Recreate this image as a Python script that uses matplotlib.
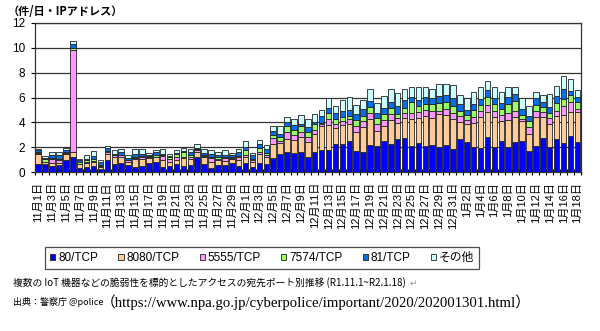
import numpy as np
import matplotlib
matplotlib.use("Agg")
import matplotlib.pyplot as plt
from matplotlib.patches import Patch

# ---- data ----
categories = ([f"11月{d}日" for d in range(1, 31)] +
              [f"12月{d}日" for d in range(1, 32)] +
              [f"1月{d}日" for d in range(1, 19)])
tick_labels = categories[::2]

series_names = ["80/TCP", "8080/TCP", "5555/TCP", "7574/TCP", "81/TCP", "その他"]

p80 = [0.7, 0.65, 0.5, 0.6, 0.95, 1.25, 0.35, 0.45, 0.5, 0.25,
       0.95, 0.7, 0.75, 0.55, 0.4, 0.5, 0.75, 0.85, 0.4, 0.5,
       0.65, 0.5, 0.6, 1.2, 0.7, 0.35, 0.6, 0.6, 0.75, 0.5,
       0.75, 0.45, 0.75, 0.7, 1.15, 1.5, 1.6, 1.52, 1.6, 1.25,
       1.6, 1.79, 1.79, 2.27, 2.27, 2.54, 1.71, 1.6, 2.19, 2.14,
       2.54, 2.27, 2.65, 2.73, 2.14, 2.38, 2.14, 2.19, 2.06, 2.19,
       1.84, 2.65, 2.46, 2.06, 1.92, 2.86, 2.06, 2.54, 2.06, 2.46,
       2.54, 1.71, 2.14, 2.73, 2.06, 2.65, 2.32, 2.91, 2.46]
p8080 = [0.75, 0.15, 0.25, 0.15, 0.5, 0.4, 0.3, 0.3, 0.3, 0.2,
         0.5, 0.55, 0.5, 0.25, 0.65, 0.6, 0.4, 0.35, 0.55, 0.35,
         0.35, 0.65, 0.5, 0.4, 0.5, 0.5, 0.4, 0.3, 0.3, 0.5,
         0.5, 0.35, 0.7, 0.5, 1.1, 0.85, 1.05, 1.1, 1.2, 1.2,
         1.5, 1.9, 2.0, 1.3, 1.5, 1.3, 1.5, 2.0, 2.1, 1.2,
         1.2, 1.9, 1.3, 1.6, 2.1, 2.0, 2.4, 2.2, 2.6, 2.4,
         2.4, 1.4, 1.4, 1.9, 2.5, 2.0, 2.4, 1.6, 2.1, 2.0,
         1.55, 1.4, 2.3, 1.7, 1.8, 1.9, 2.3, 1.9, 2.4]
p5555 = [0.1, 0.05, 0.3, 0.2, 0.1, 8.15, 0.05, 0.1, 0.1, 0.05,
         0.2, 0.1, 0.1, 0.15, 0.1, 0.1, 0.05, 0.05, 0.35, 0.25,
         0.2, 0.05, 0.1, 0.2, 0.1, 0.3, 0.1, 0.25, 0.1, 0.2,
         0.1, 0.15, 0.2, 0.2, 0.5, 0.2, 0.6, 0.4, 0.4, 0.35,
         0.3, 0.15, 0.5, 0.3, 0.35, 0.4, 0.5, 0.5, 0.5, 0.5,
         0.45, 0.5, 0.4, 0.4, 0.5, 0.5, 0.5, 0.5, 0.3, 0.5,
         0.5, 0.5, 0.3, 0.45, 0.5, 0.55, 0.5, 0.45, 0.6, 0.5,
         0.2, 0.5, 0.5, 0.4, 0.5, 0.4, 0.7, 0.8, 0.2]
p7574 = [0.05, 0.2, 0.1, 0.1, 0.05, 0.15, 0.15, 0.1, 0.2, 0.05,
         0.05, 0.05, 0.05, 0.05, 0.1, 0.1, 0.1, 0.1, 0.05, 0.1,
         0.25, 0.4, 0.2, 0.05, 0.1, 0.1, 0.15, 0.1, 0.05, 0.1,
         0.4, 0.15, 0.3, 0.15, 0.25, 0.25, 0.45, 0.4, 0.5, 0.4,
         0.45, 0.15, 0.5, 0.4, 0.3, 0.3, 0.5, 0.45, 0.45, 0.5,
         0.45, 0.5, 0.35, 0.4, 0.9, 0.45, 0.45, 0.6, 0.6, 0.55,
         0.6, 0.4, 0.45, 0.6, 0.5, 0.6, 0.5, 0.5, 0.7, 0.8,
         0.3, 0.5, 0.5, 0.4, 0.4, 0.6, 0.6, 0.6, 0.6]
p81 = [0.15, 0.1, 0.25, 0.3, 0.2, 0.35, 0.1, 0.15, 0.2, 0.25,
       0.25, 0.1, 0.2, 0.15, 0.2, 0.15, 0.1, 0.25, 0.15, 0.1,
       0.1, 0.1, 0.25, 0.1, 0.15, 0.2, 0.1, 0.15, 0.15, 0.3,
       0.3, 0.25, 0.3, 0.35, 0.35, 0.3, 0.3, 0.4, 0.2, 0.45,
       0.2, 0.5, 0.4, 0.5, 0.5, 0.5, 0.5, 0.5, 0.5, 0.45,
       0.5, 0.5, 0.6, 0.65, 0.4, 0.5, 0.55, 0.45, 0.6, 0.6,
       0.6, 0.5, 0.4, 0.5, 0.5, 0.6, 0.5, 0.5, 0.55, 0.5,
       0.5, 0.4, 0.5, 0.4, 0.5, 0.6, 0.75, 0.35, 0.4]
pother = [0.12, 0.15, 0.2, 0.25, 0.15, 0.25, 0.1, 0.25, 0.4, 0.2,
          0.2, 0.3, 0.3, 0.2, 0.4, 0.4, 0.15, 0.15, 0.4, 0.15,
          0.25, 0.25, 0.2, 0.3, 0.3, 0.35, 0.3, 0.35, 0.2, 0.3,
          0.5, 0.2, 0.35, 0.3, 0.35, 0.6, 0.4, 0.46, 0.7, 0.63,
          0.63, 0.51, 0.74, 0.55, 0.88, 1.03, 0.69, 0.75, 0.91, 0.8,
          1.01, 0.98, 1.09, 0.93, 0.83, 0.99, 0.83, 0.77, 0.92, 0.84,
          1.04, 0.75, 0.98, 0.96, 0.9, 0.74, 0.86, 0.88, 0.86, 0.61,
          0.9, 0.84, 0.53, 0.57, 1.02, 0.8, 1.05, 0.92, 0.54]

colors = ["#0000FF", "#FFCC99", "#FF99FF", "#99FF66", "#0070F0", "#CCFFFF"]

# ---- figure ----
plt.rcParams['font.family'] = ['Liberation Sans', 'Noto Sans CJK JP', 'DejaVu Sans']
fig = plt.figure(figsize=(6, 3.31), dpi=100)
ax = fig.add_axes([0.058, 0.4795, 0.910, 0.4515])

x = np.arange(len(categories))
bottom = np.zeros(len(categories))
for vals, col, name in zip([p80, p8080, p5555, p7574, p81, pother], colors, series_names):
    v = np.array(vals)
    ax.bar(x, v, bottom=bottom, width=0.8, color=col, edgecolor="#222222",
           linewidth=0.6, label=name, zorder=3)
    bottom += v

ax.set_xlim(-0.5, len(categories) - 0.5)
ax.set_ylim(0, 12)
ax.set_yticks(range(0, 13, 2))
ax.tick_params(axis='y', labelsize=8.5, length=3, width=0.8, pad=4)
ax.yaxis.grid(True, color="#333333", linewidth=0.9, zorder=0)
ax.set_axisbelow(True)

ax.set_xticks(x[::2])
ax.set_xticklabels(tick_labels, rotation=90, fontsize=8,
                   family=['Liberation Sans', 'Noto Sans CJK JP'])
ax.tick_params(axis='x', which='major', length=0, pad=7)
ax.set_xticks(np.arange(-0.5, len(categories), 1), minor=True)
ax.tick_params(axis='x', which='minor', direction='inout', length=5, width=0.8)

for s in ['left', 'right', 'top', 'bottom']:
    ax.spines[s].set_color("#333333")
    ax.spines[s].set_linewidth(0.9)

fig.text(0.012, 0.965, "（件/日・IPアドレス）", fontsize=8, fontweight='bold',
         family=['Noto Sans CJK JP', 'DejaVu Sans'], va='center', ha='left')

handles = [Patch(facecolor=c, edgecolor="#222222", linewidth=0.6) for c in colors]
leg = fig.legend(handles, series_names, loc='center', bbox_to_anchor=(0.437, 1 - 258 / 331),
                 ncol=6, frameon=True, fancybox=False,
                 handlelength=0.45, handleheight=0.45, handletextpad=0.25,
                 columnspacing=1.7, borderpad=0.4,
                 prop={'family': ['Liberation Sans', 'Noto Sans CJK JP'], 'size': 8.5})
leg.get_frame().set_edgecolor("#222222")
leg.get_frame().set_linewidth(0.9)

fig.text(0.022, 1 - 283 / 331,
         "複数の IoT 機器などの脆弱性を標的としたアクセスの宛先ポート別推移 (R1.11.1~R2.1.18) ",
         fontsize=7, family=['Noto Sans CJK JP', 'DejaVu Sans'], va='center', ha='left')
fig.text(0.683, 1 - 283 / 331, "↵", fontsize=6.5, color="#999999",
         family=['DejaVu Sans'], va='center', ha='left')
fig.text(0.022, 1 - 302 / 331, "出典：警察庁 @police", fontsize=6.5,
         family=['Noto Sans CJK JP', 'DejaVu Sans'], va='center', ha='left')
fig.text(0.168, 1 - 302 / 331,
         "（https://www.npa.go.jp/cyberpolice/important/2020/202001301.html）",
         fontsize=10.6, family=['Liberation Serif', 'Noto Sans CJK JP'], va='center', ha='left')

fig.savefig("out.png", dpi=100)
